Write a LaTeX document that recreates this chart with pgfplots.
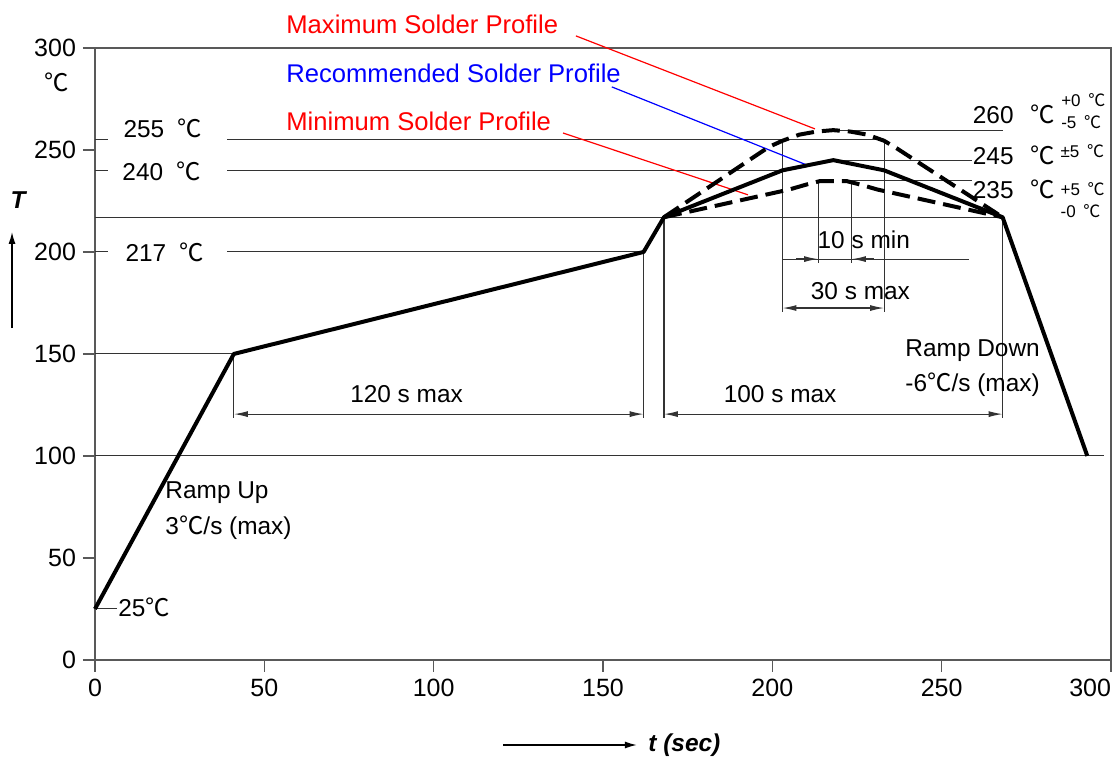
\documentclass[border=0pt]{standalone}
\usepackage{fontspec}
\setmainfont{Liberation Sans}
\newfontfamily\cjk{Noto Sans CJK SC}
\usepackage{pgfplots}
\pgfplotsset{compat=1.18}
\usetikzlibrary{arrows.meta}
\newcommand\dC{{\cjk ℃}}
\newcommand\Lbl{\fontsize{12.2}{14}\selectfont}
\newcommand\Ttl{\fontsize{12.8}{15}\selectfont}
\newcommand\Sml{\fontsize{8.5}{10}\selectfont}
\begin{document}
\begin{tikzpicture}
\tikzset{
  thinl/.style={black!80, line width=0.55pt},
  dim/.style={black!80, line width=0.6pt, {Latex[length=7pt,width=3pt]}-{Latex[length=7pt,width=3pt]}},
  ar/.style={black!80, line width=0.6pt, -{Latex[length=7pt,width=3pt]}},
  lb/.style={anchor=west, inner sep=0pt},
  cb/.style={inner sep=0pt},
}
\begin{axis}[
  scale only axis, width=508pt, height=306pt,
  xmin=0, xmax=300, ymin=0, ymax=300,
  xtick={0,50,...,300}, ytick={0,50,...,300},
  xticklabels={0,50,100,150,200,250,\makebox[0pt][r]{300}},
  tick align=outside, xtick pos=bottom, ytick pos=left,
  major tick length=6pt,
  axis line style={black!65, line width=0.7pt},
  every tick/.style={black!65, line width=0.7pt},
  tick label style={font=\fontsize{12.5}{14}\selectfont},
  /pgf/number format/assume math mode=true,
  clip=false,
]
% bounding box corners
\coordinate (bbA) at (axis cs:-28.05,-48.04);
\coordinate (bbB) at (axis cs:302.07,323.5);

% thin reference lines
\draw[thinl] (axis cs:0,217) -- (axis cs:268,217);
\draw[thinl] (axis cs:0,100) -- (axis cs:298,100);
\draw[thinl] (axis cs:0,150) -- (axis cs:41,150);
\draw[thinl] (axis cs:0,25) -- (axis cs:6.5,25);
\draw[thinl] (axis cs:0,255) -- (axis cs:3.8,255);
\draw[thinl] (axis cs:39,255) -- (axis cs:233,255);
\draw[thinl] (axis cs:0,240) -- (axis cs:3.8,240);
\draw[thinl] (axis cs:39,240) -- (axis cs:203,240);
\draw[thinl] (axis cs:0,200) -- (axis cs:3.8,200);
\draw[thinl] (axis cs:39,200) -- (axis cs:162,200);
\draw[thinl] (axis cs:218,259.7) -- (axis cs:268,259.7);
\draw[thinl] (axis cs:218,245) -- (axis cs:259,245);
\draw[thinl] (axis cs:221,234.8) -- (axis cs:259,234.8);

% extension lines
\draw[thinl] (axis cs:41,150) -- (axis cs:41,118.5);
\draw[thinl] (axis cs:162,200) -- (axis cs:162,118.5);
\draw[thinl] (axis cs:168,217) -- (axis cs:168,118.5);
\draw[thinl] (axis cs:268,217) -- (axis cs:268,118.5);
\draw[thinl] (axis cs:203,255) -- (axis cs:203,170.5);
\draw[thinl] (axis cs:233,255) -- (axis cs:233,170.5);
\draw[thinl] (axis cs:213.5,234.7) -- (axis cs:213.5,194.5);
\draw[thinl] (axis cs:223.5,234.7) -- (axis cs:223.5,194.5);
\draw[thinl] (axis cs:203,196.5) -- (axis cs:258,196.5);

% dimension arrows
\draw[dim] (axis cs:41,120.5) -- (axis cs:162,120.5);
\draw[dim] (axis cs:168,120.5) -- (axis cs:268,120.5);
\draw[dim] (axis cs:203,172.5) -- (axis cs:233,172.5);
\draw[ar] (axis cs:207,196.5) -- (axis cs:213.5,196.5);
\draw[ar] (axis cs:230,196.5) -- (axis cs:223.5,196.5);

% leader lines
\draw[red, line width=0.6pt] (axis cs:142,305.9) -- (axis cs:212.6,260.3);
\draw[blue, line width=0.6pt] (axis cs:152.6,280.9) -- (axis cs:210.2,242.6);
\draw[red, line width=0.6pt] (axis cs:138.2,258.3) -- (axis cs:192.8,228);

% profiles
\addplot[black, line width=2pt, line join=round, mark=none] coordinates {
 (0,25) (41,150) (162,200) (168,217) (203,240) (218,245) (233,240) (268,217) (293,100)};
\addplot[black, line width=2pt, dash pattern=on 9pt off 4pt, mark=none] coordinates {
 (168,217) (199,251.5) (203,254.5) (208,257.5) (213,259) (218,259.7) (223,259) (228,257.5) (233,254.5) (237,250.5) (268,217)};
\addplot[black, line width=2pt, dash pattern=on 9pt off 4pt, mark=none] coordinates {
 (168,217) (205,230.6) (210,233) (214,234.7) (222,234.7) (226,233) (231,230.6) (268,217)};

% texts
\node[lb, font=\Ttl, text=red] at (axis cs:56.4,311.8) {Maximum Solder Profile};
\node[lb, font=\Ttl, text=blue] at (axis cs:56.4,287.3) {Recommended Solder Profile};
\node[lb, font=\Ttl, text=red] at (axis cs:56.4,264.2) {Minimum Solder Profile};

\node[cb, font=\Lbl] at (axis cs:-11.2,283.3) {\dC};
\node[lb, font=\Lbl] at (axis cs:8.3,260.8) {255\hspace{0.55em}\dC};
\node[lb, font=\Lbl] at (axis cs:8.0,239.7) {240\hspace{0.55em}\dC};
\node[lb, font=\Lbl] at (axis cs:8.9,200) {217\hspace{0.55em}\dC};

\node[lb, font=\Lbl] at (axis cs:259.1,267.2) {260\hspace{0.7em}\dC};
\node[lb, font=\Lbl] at (axis cs:259.1,247.5) {245\hspace{0.7em}\dC};
\node[lb, font=\Lbl] at (axis cs:259.1,230.9) {235\hspace{0.7em}\dC};
\node[lb, font=\Sml] at (axis cs:285.2,274.5) {+0\hspace{0.45em}\dC};
\node[lb, font=\Sml] at (axis cs:285.2,263.7) {-5\hspace{0.45em}\dC};
\node[lb, font=\Sml] at (axis cs:285.0,249.2) {±5\hspace{0.45em}\dC};
\node[lb, font=\Sml] at (axis cs:285.0,230.9) {+5\hspace{0.45em}\dC};
\node[lb, font=\Sml] at (axis cs:285.0,219.8) {-0\hspace{0.45em}\dC};

\node[cb, font=\Lbl] at (axis cs:227,206) {10 s min};
\node[cb, font=\Lbl] at (axis cs:226,181) {30 s max};
\node[cb, font=\Lbl] at (axis cs:92,130.4) {120 s max};
\node[cb, font=\Lbl] at (axis cs:202.3,130.4) {100 s max};

\node[lb, font=\Lbl] at (axis cs:20.7,81.9) {Ramp Up};
\node[lb, font=\Lbl] at (axis cs:20.7,64.7) {3\dC/s (max)};
\node[lb, font=\Lbl] at (axis cs:239.2,151.5) {Ramp Down};
\node[lb, font=\Lbl] at (axis cs:239.2,134.8) {-6\dC/s (max)};
\node[lb, font=\Lbl] at (axis cs:6.8,26) {25\dC};

% axis titles
\node[cb, font=\Lbl\bfseries\itshape] at (axis cs:-22.7,225.5) {T};
\draw[black, line width=0.7pt, -{Latex[length=6pt,width=3.5pt]}] (axis cs:-24.5,162.7) -- (axis cs:-24.5,209.8);
\draw[black, line width=0.7pt, -{Latex[length=6pt,width=3.5pt]}] (axis cs:120.5,-41.7) -- (axis cs:160,-41.7);
\node[lb, font=\Lbl\bfseries\itshape] at (axis cs:163.3,-41.7) {t (sec)};
\end{axis}
\pgfresetboundingbox
\path[use as bounding box] (bbA) rectangle (bbB);
\end{tikzpicture}
\end{document}
